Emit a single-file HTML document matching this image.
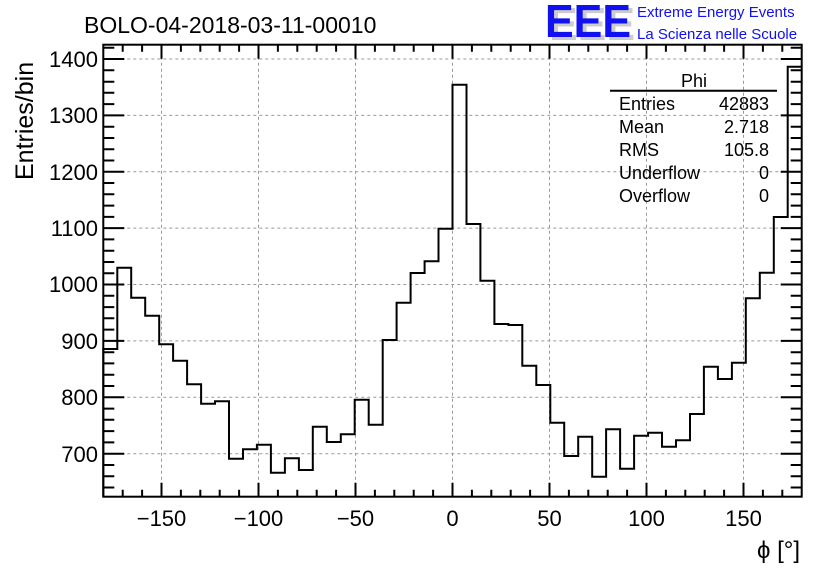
<!DOCTYPE html>
<html><head><meta charset="utf-8"><style>body{margin:0;background:#fff}svg{display:block}text{font-family:"Liberation Sans",sans-serif}</style></head><body>
<svg width="836" height="572" viewBox="0 0 836 572" xmlns="http://www.w3.org/2000/svg">
<rect width="836" height="572" fill="#fff"/>
<g stroke="#999" stroke-width="1" stroke-dasharray="3,3">
<line x1="161.5" y1="44.7" x2="161.5" y2="496.7"/><line x1="258.5" y1="44.7" x2="258.5" y2="496.7"/><line x1="355.5" y1="44.7" x2="355.5" y2="496.7"/><line x1="452.5" y1="44.7" x2="452.5" y2="496.7"/><line x1="549.5" y1="44.7" x2="549.5" y2="496.7"/><line x1="646.5" y1="44.7" x2="646.5" y2="496.7"/><line x1="743.5" y1="44.7" x2="743.5" y2="496.7"/>
<line x1="103.3" y1="59" x2="801.7" y2="59"/><line x1="103.3" y1="115.4" x2="801.7" y2="115.4"/><line x1="103.3" y1="171.8" x2="801.7" y2="171.8"/><line x1="103.3" y1="228.1" x2="801.7" y2="228.1"/><line x1="103.3" y1="284.5" x2="801.7" y2="284.5"/><line x1="103.3" y1="340.9" x2="801.7" y2="340.9"/><line x1="103.3" y1="397.3" x2="801.7" y2="397.3"/><line x1="103.3" y1="453.7" x2="801.7" y2="453.7"/>
</g>
<path fill="none" stroke="#000" stroke-width="2" d="M103.3,496.7V349H117.3V267.7H131.2V297.7H145.2V315.7H159.2V344.3H173.1V360.7H187.1V384.3H201.1V403.7H215V401.3H229V458.7H243V449.3H256.9V444.7H270.9V472.7H284.9V458.3H298.9V470H312.8V426.7H326.8V442H340.8V434.3H354.7V399.7H368.7V424.7H382.7V340H396.6V302.7H410.6V273H424.6V261.3H438.5V228.7H452.5V84.7H466.5V224H480.4V280.7H494.4V324H508.4V325H522.3V365.7H536.3V385H550.3V422.7H564.2V456H578.2V436.7H592.2V476.7H606.1V429.3H620.1V468.7H634.1V435.7H648.1V432.7H662V446.7H676V440.3H690V414H703.9V366.7H717.9V379H731.9V362.7H745.8V298.3H759.8V272.7H773.8V217H787.7V66.7H801.7"/>
<rect x="103.3" y="44.7" width="698.4" height="452" fill="none" stroke="#000" stroke-width="2"/>
<g stroke="#000" stroke-width="2" id="xt">
<path d="M161.5,496.7v-14M258.5,496.7v-14M355.5,496.7v-14M452.5,496.7v-14M549.5,496.7v-14M646.5,496.7v-14M743.5,496.7v-14M161.5,44.7v14M258.5,44.7v14M355.5,44.7v14M452.5,44.7v14M549.5,44.7v14M646.5,44.7v14M743.5,44.7v14"/>
<path d="M122.7,496.7v-7M142.1,496.7v-7M180.9,496.7v-7M200.3,496.7v-7M219.7,496.7v-7M239.1,496.7v-7M277.9,496.7v-7M297.3,496.7v-7M316.7,496.7v-7M336.1,496.7v-7M374.9,496.7v-7M394.3,496.7v-7M413.7,496.7v-7M433.1,496.7v-7M471.9,496.7v-7M491.3,496.7v-7M510.7,496.7v-7M530.1,496.7v-7M568.9,496.7v-7M588.3,496.7v-7M607.7,496.7v-7M627.1,496.7v-7M665.9,496.7v-7M685.3,496.7v-7M704.7,496.7v-7M724.1,496.7v-7M762.9,496.7v-7M782.3,496.7v-7M122.7,44.7v7M142.1,44.7v7M180.9,44.7v7M200.3,44.7v7M219.7,44.7v7M239.1,44.7v7M277.9,44.7v7M297.3,44.7v7M316.7,44.7v7M336.1,44.7v7M374.9,44.7v7M394.3,44.7v7M413.7,44.7v7M433.1,44.7v7M471.9,44.7v7M491.3,44.7v7M510.7,44.7v7M530.1,44.7v7M568.9,44.7v7M588.3,44.7v7M607.7,44.7v7M627.1,44.7v7M665.9,44.7v7M685.3,44.7v7M704.7,44.7v7M724.1,44.7v7M762.9,44.7v7M782.3,44.7v7"/>
<path d="M103.3,59h21M103.3,115.4h21M103.3,171.8h21M103.3,228.1h21M103.3,284.5h21M103.3,340.9h21M103.3,397.3h21M103.3,453.7h21M801.7,59h-21M801.7,115.4h-21M801.7,171.8h-21M801.7,228.1h-21M801.7,284.5h-21M801.7,340.9h-21M801.7,397.3h-21M801.7,453.7h-21"/>
<path d="M103.3,47.7h11M103.3,70.3h11M103.3,81.8h11M103.3,92.8h11M103.3,104.1h11M103.3,126.7h11M103.3,138h11M103.3,149.2h11M103.3,160.5h11M103.3,183h11M103.3,194.3h11M103.3,205.6h11M103.3,216.9h11M103.3,239.4h11M103.3,250.7h11M103.3,262h11M103.3,273.2h11M103.3,295.8h11M103.3,307.1h11M103.3,318.3h11M103.3,329.6h11M103.3,352.2h11M103.3,363.4h11M103.3,374.7h11M103.3,386h11M103.3,408.6h11M103.3,419.8h11M103.3,431.1h11M103.3,442.4h11M103.3,465h11M103.3,476.2h11M103.3,487.5h11"/>
<path d="M801.7,47.7h-11M801.7,70.3h-11M801.7,81.8h-11M801.7,92.8h-11M801.7,104.1h-11M801.7,126.7h-11M801.7,138h-11M801.7,149.2h-11M801.7,160.5h-11M801.7,183h-11M801.7,194.3h-11M801.7,205.6h-11M801.7,216.9h-11M801.7,239.4h-11M801.7,250.7h-11M801.7,262h-11M801.7,273.2h-11M801.7,295.8h-11M801.7,307.1h-11M801.7,318.3h-11M801.7,329.6h-11M801.7,352.2h-11M801.7,363.4h-11M801.7,374.7h-11M801.7,386h-11M801.7,408.6h-11M801.7,419.8h-11M801.7,431.1h-11M801.7,442.4h-11M801.7,465h-11M801.7,476.2h-11M801.7,487.5h-11"/>
</g>
<g font-size="22" text-anchor="end" fill="#000">
<text x="98" y="67">1400</text><text x="98" y="123">1300</text><text x="98" y="180">1200</text><text x="98" y="236">1100</text><text x="98" y="292">1000</text><text x="98" y="349">900</text><text x="98" y="405">800</text><text x="98" y="462">700</text>
</g>
<g font-size="22" text-anchor="middle" fill="#000">
<text x="161.5" y="526">−150</text><text x="258.5" y="526">−100</text><text x="355.5" y="526">−50</text><text x="452.5" y="526">0</text><text x="549.5" y="526">50</text><text x="646.5" y="526">100</text><text x="743.5" y="526">150</text>
</g>
<text x="800" y="558" font-size="24" text-anchor="end">ϕ [°]</text>
<text transform="translate(33,180) rotate(-90)" font-size="25" text-anchor="start">Entries/bin</text>
<text x="84" y="33" font-size="23">BOLO-04-2018-03-11-00010</text>
<text x="549" y="40" font-size="46" font-weight="bold" fill="#ccc" textLength="86" lengthAdjust="spacingAndGlyphs">EEE</text>
<text x="545" y="37" font-size="46" font-weight="bold" fill="#1010f0" textLength="86" lengthAdjust="spacingAndGlyphs">EEE</text>
<text x="637" y="17" font-size="15" fill="#1010f0">Extreme Energy Events</text>
<text x="637" y="39" font-size="15" fill="#1010f0">La Scienza nelle Scuole</text>
<rect x="611" y="70" width="166" height="140" fill="#fff" opacity="0"/>
<text x="694" y="87" font-size="18" text-anchor="middle">Phi</text>
<line x1="610" y1="90.7" x2="777" y2="90.7" stroke="#000" stroke-width="2"/>
<g font-size="18">
<text x="619" y="110">Entries</text><text x="619" y="133">Mean</text><text x="619" y="156">RMS</text><text x="619" y="179">Underflow</text><text x="619" y="202">Overflow</text>
</g>
<g font-size="18" text-anchor="end">
<text x="769" y="110">42883</text><text x="769" y="133">2.718</text><text x="769" y="156">105.8</text><text x="769" y="179">0</text><text x="769" y="202">0</text>
</g>
</svg>
</body></html>
